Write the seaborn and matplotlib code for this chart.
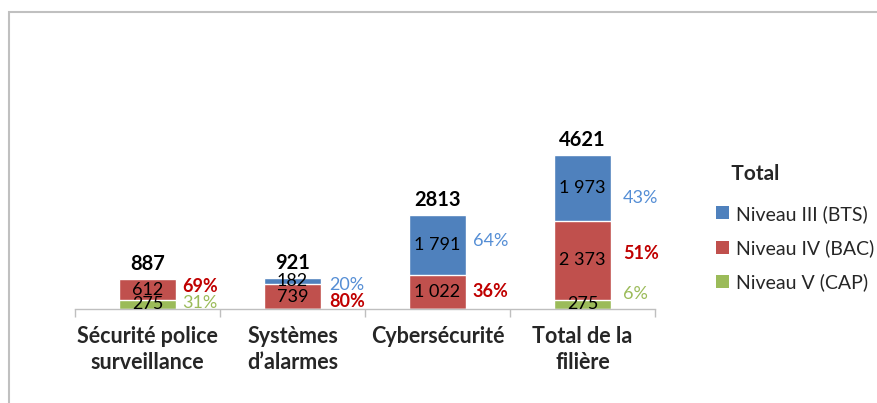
import matplotlib

matplotlib.use("Agg")

import matplotlib.pyplot as plt
import numpy as np
import pandas as pd
import seaborn as sns
from matplotlib.patches import Patch, Rectangle

categories = ["Sécurité police\nsurveillance", "Systèmes\nd’alarmes", "Cybersécurité", "Total de la\nfilière"]
niveau_iii = [0, 182, 1791, 1973]
niveau_iv = [612, 739, 1022, 2373]
niveau_v = [275, 0, 0, 275]
series_names = ["Niveau III (BTS)", "Niveau IV (BAC)", "Niveau V (CAP)"]
legend_title = "Total"

BAR_COLORS = ["#4F81BD", "#C0504D", "#9BBB59"]
PCT_COLORS = ["#558ED5", "#C00000", "#9BBB59"]
PCT_WEIGHTS = ["normal", "bold", "normal"]
BAR_WIDTH = 0.39
# Excel-like placement of the percentage labels (pixels), keyed by (bar, series)
PCT_X_GAP = [6, 8, 7, 12]
PCT_NUDGE = {(0, 1): 3, (0, 2): 1, (1, 0): -4, (1, 1): -5, (2, 0): 4, (3, 0): -10, (3, 1): 7, (3, 2): 10}

sns.set_theme(style="white")
plt.rcParams["font.family"] = ["Lato", "DejaVu Sans"]


def fmt_thousands(value: int) -> str:
    return f"{value:,}".replace(",", " ")


def main() -> None:
    df = pd.DataFrame(
        {"categorie": categories, "iii": niveau_iii, "iv": niveau_iv, "v": niveau_v}
    )
    df["total"] = df[["iii", "iv", "v"]].sum(axis=1)

    fig = plt.figure(figsize=(8.77, 4.03), dpi=100)
    ax = fig.add_axes([75 / 877, 94 / 403, 580 / 877, 269 / 403])

    # stacked bars drawn as overlapping cumulative layers
    layers = [df["total"], df["iv"] + df["v"], df["v"]]
    for heights, color in zip(layers, BAR_COLORS):
        sns.barplot(
            x=df["categorie"], y=heights, color=color, width=BAR_WIDTH,
            saturation=1, errorbar=None, ax=ax,
        )

    series_cols = ["iii", "iv", "v"]
    for i, row in df.iterrows():
        bottom = 0
        # stack order bottom -> top: v, iv, iii
        for s in [2, 1, 0]:
            val = int(row[series_cols[s]])
            if val == 0:
                continue
            mid = bottom + val / 2
            ax.text(i, mid, fmt_thousands(val), ha="center", va="center",
                    fontsize=13, color="black", clip_on=True)
            pct = 100 * val / row["total"]
            ax.annotate(
                f"{pct:.0f}%", xy=(i + BAR_WIDTH / 2, mid),
                xytext=(PCT_X_GAP[i], PCT_NUDGE.get((i, s), 0)), textcoords="offset pixels",
                ha="left", va="center", fontsize=13,
                color=PCT_COLORS[s], fontweight=PCT_WEIGHTS[s],
            )
            bottom += val
        ax.annotate(
            str(int(row["total"])), xy=(i, row["total"]), xytext=(0, 5),
            textcoords="offset pixels", ha="center", va="bottom",
            fontsize=14.5, fontweight="bold", color="black",
        )

    ax.set_xlim(-0.5, 3.5)
    ax.set_ylim(0, 8072)
    ax.set_yticks([])
    ax.set_xlabel("")
    ax.set_ylabel("")
    sns.despine(ax=ax, left=True)
    ax.spines["bottom"].set_color("#BFBFBF")
    ax.spines["bottom"].set_linewidth(1)
    ax.set_xticks(np.arange(-0.5, 4, 1), minor=True)
    ax.tick_params(axis="x", which="minor", length=6, width=1, color="#BFBFBF", bottom=True)
    ax.tick_params(axis="x", which="major", length=0, pad=12)
    for lab in ax.get_xticklabels():
        lab.set_fontweight("bold")
        lab.set_fontsize(15.5)
        lab.set_linespacing(1.3)

    handles = [Patch(facecolor=c, edgecolor="none") for c in BAR_COLORS]
    leg = fig.legend(
        handles, series_names, title="   " + legend_title, loc="upper left",
        bbox_to_anchor=(716 / 877, 1 - 164 / 403), frameon=False, fontsize=14,
        title_fontproperties={"weight": "bold", "size": 15},
        handlelength=0.65, handleheight=0.65, handletextpad=0.4,
        labelspacing=0.85, borderpad=0, borderaxespad=0,
    )
    leg._legend_box.align = "left"
    leg._legend_box.sep = 15

    fig.add_artist(Rectangle(
        (9 / 877, -0.5), 2, 391 / 403 + 0.5, transform=fig.transFigure,
        fill=False, edgecolor="#C0C0C0", linewidth=1.5,
    ))

    fig.savefig("out.png", dpi=100)
    plt.close(fig)


if __name__ == "__main__":
    main()
